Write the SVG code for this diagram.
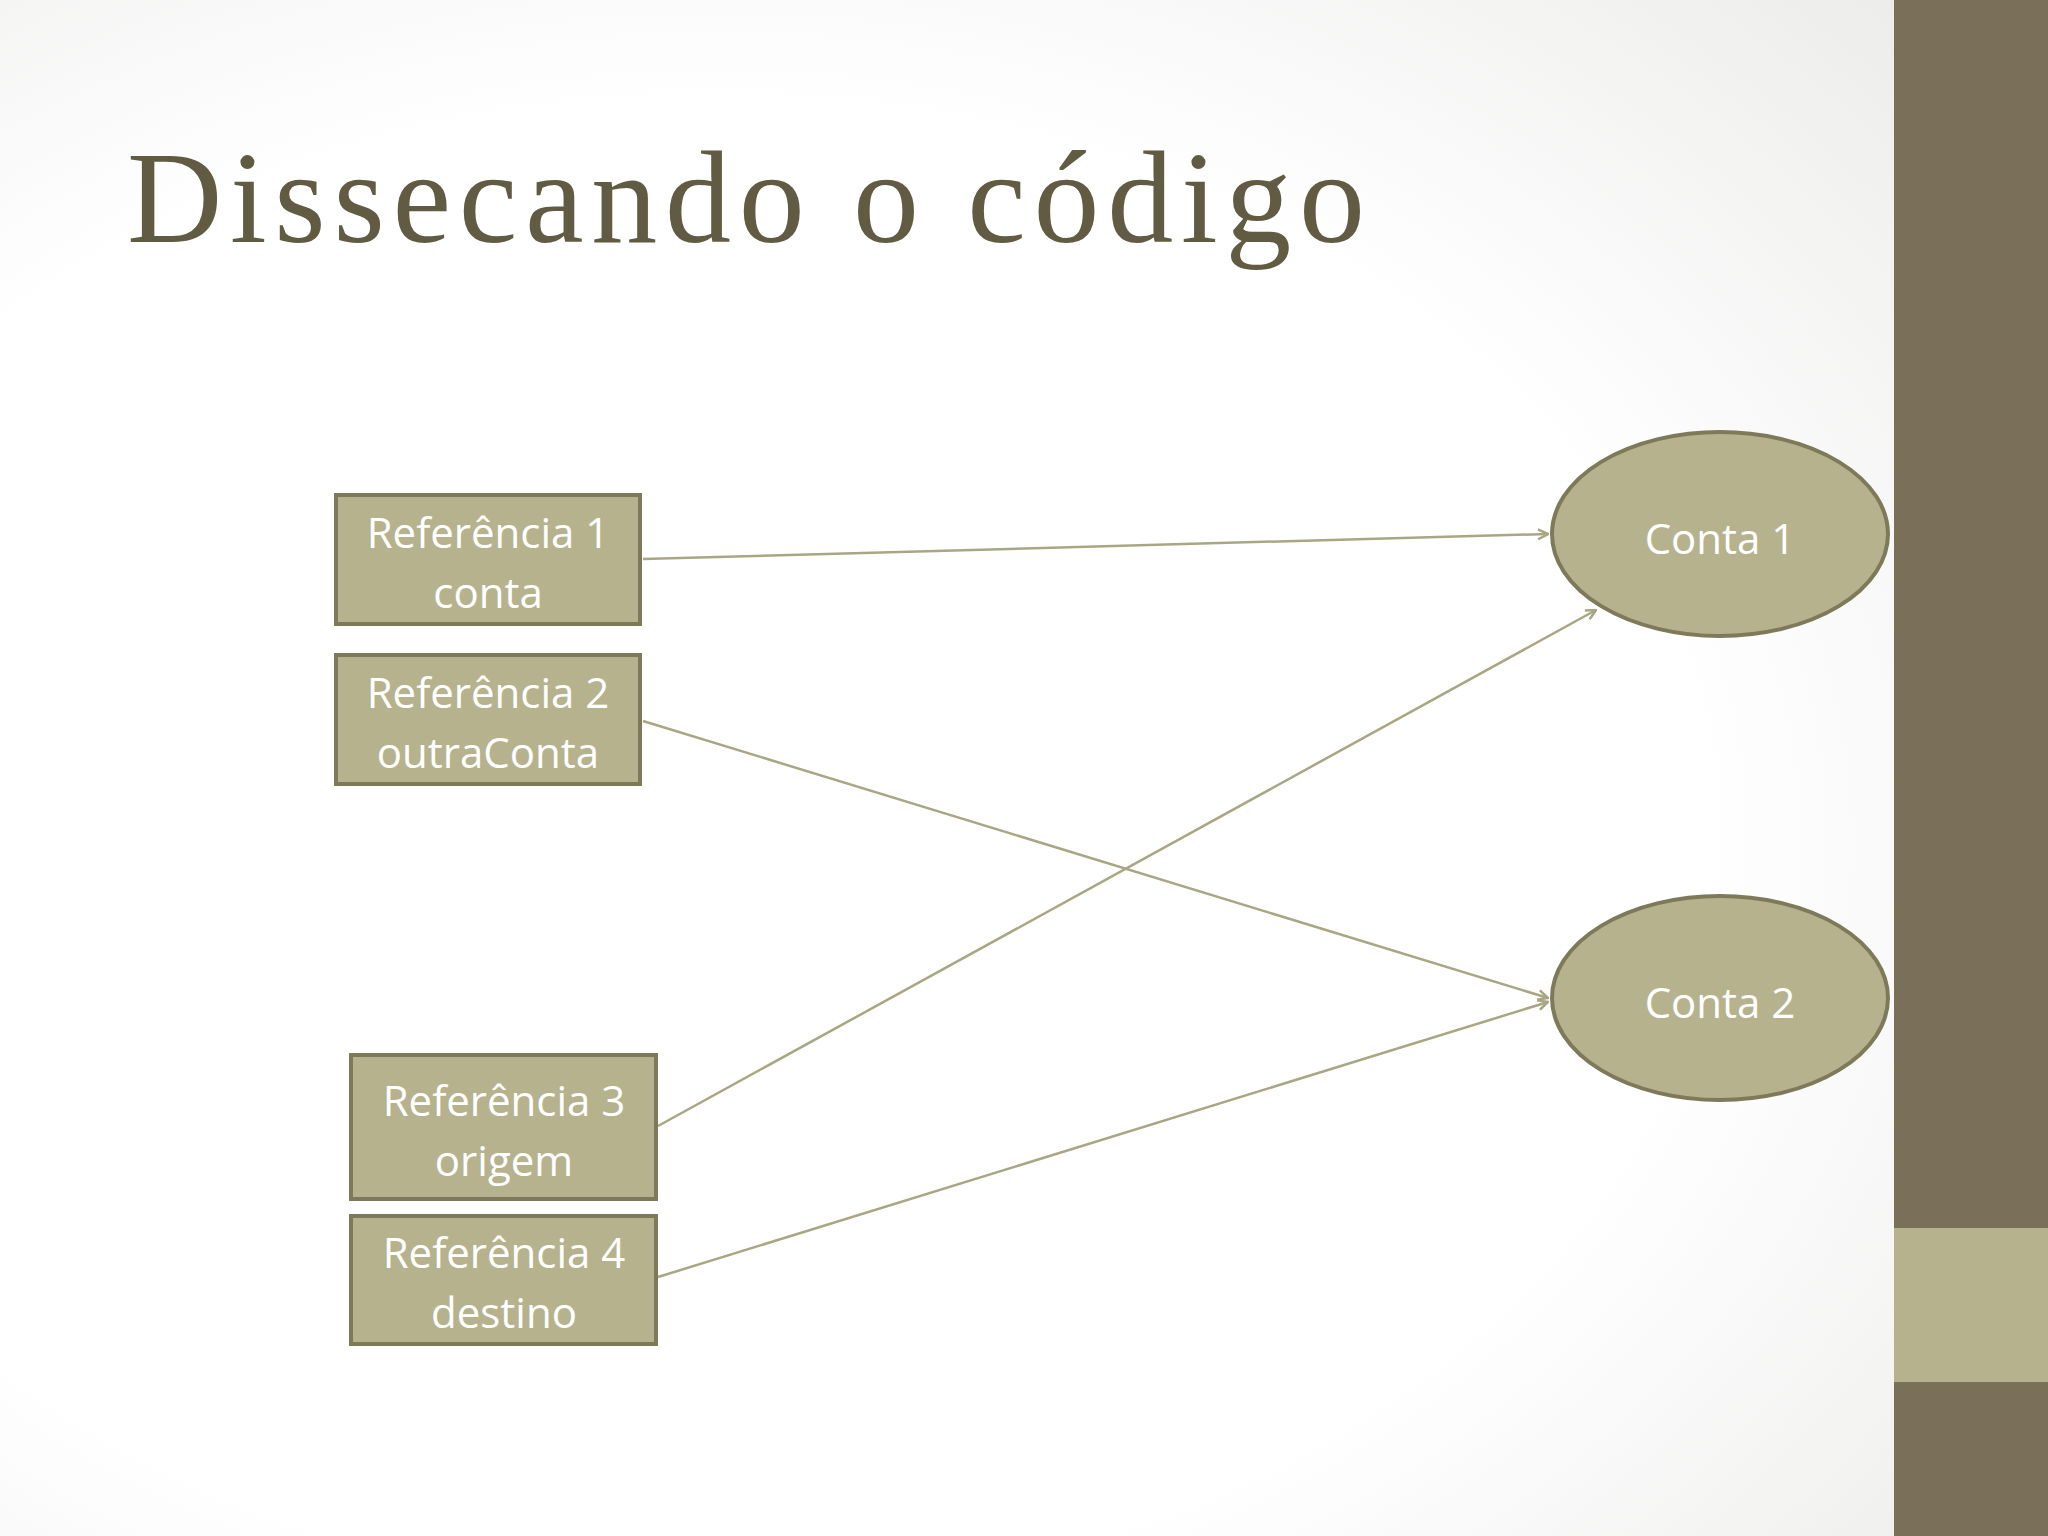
<svg xmlns="http://www.w3.org/2000/svg" width="2048" height="1536" viewBox="0 0 2048 1536">
<defs>
<radialGradient id="bg" cx="0.35" cy="0.55" r="0.8">
<stop offset="0.6" stop-color="#ffffff"/><stop offset="1" stop-color="#ececeb"/>
</radialGradient>
<marker id="ah" viewBox="0 0 12 12" refX="11" refY="6" markerWidth="12" markerHeight="12" markerUnits="userSpaceOnUse" orient="auto">
<path d="M1,1 L11,6 L1,11" fill="none" stroke="#a9a684" stroke-width="2.5"/>
</marker>
<style>
.box{fill:#b7b28e;stroke:#7f795b;stroke-width:4}
.t{fill:#ffffff;font-family:"Open Sans","Liberation Sans",sans-serif;font-size:42px;text-anchor:middle}
.c{fill:none;stroke:#a9a684;stroke-width:2.5;marker-end:url(#ah)}
</style>
</defs>
<rect width="2048" height="1536" fill="url(#bg)"/>
<rect x="1894" y="0" width="154" height="1536" fill="#7a6f58"/>
<rect x="1894" y="1228" width="154" height="154" fill="#b7b28e"/>
<text x="127" y="242" font-family="Liberation Serif,serif" font-size="132" fill="#625b44" textLength="1238">Dissecando o código</text>
<g id="connectors">
<line class="c" x1="643" y1="559" x2="1548" y2="534"/>
<line class="c" x1="643" y1="721" x2="1548" y2="998"/>
<line class="c" x1="658" y1="1126" x2="1596" y2="610"/>
<line class="c" x1="658" y1="1277" x2="1548" y2="1002"/>
</g>
<g id="ref1"><rect class="box" x="336" y="495" width="304" height="129"/><text class="t" x="488" y="548">Referência 1</text><text class="t" x="488" y="608">conta</text></g>
<g id="ref2"><rect class="box" x="336" y="655" width="304" height="129"/><text class="t" x="488" y="708">Referência 2</text><text class="t" x="488" y="768">outraConta</text></g>
<g id="ref3"><rect class="box" x="351" y="1055" width="305" height="144"/><text class="t" x="504" y="1116">Referência 3</text><text class="t" x="504" y="1176">origem</text></g>
<g id="ref4"><rect class="box" x="351" y="1216" width="305" height="128"/><text class="t" x="504" y="1268">Referência 4</text><text class="t" x="504" y="1328">destino</text></g>
<g id="conta1"><ellipse class="box" cx="1720" cy="534" rx="168" ry="102"/><text class="t" x="1720" y="554">Conta 1</text></g>
<g id="conta2"><ellipse class="box" cx="1720" cy="998" rx="168" ry="102"/><text class="t" x="1720" y="1018">Conta 2</text></g>
</svg>
